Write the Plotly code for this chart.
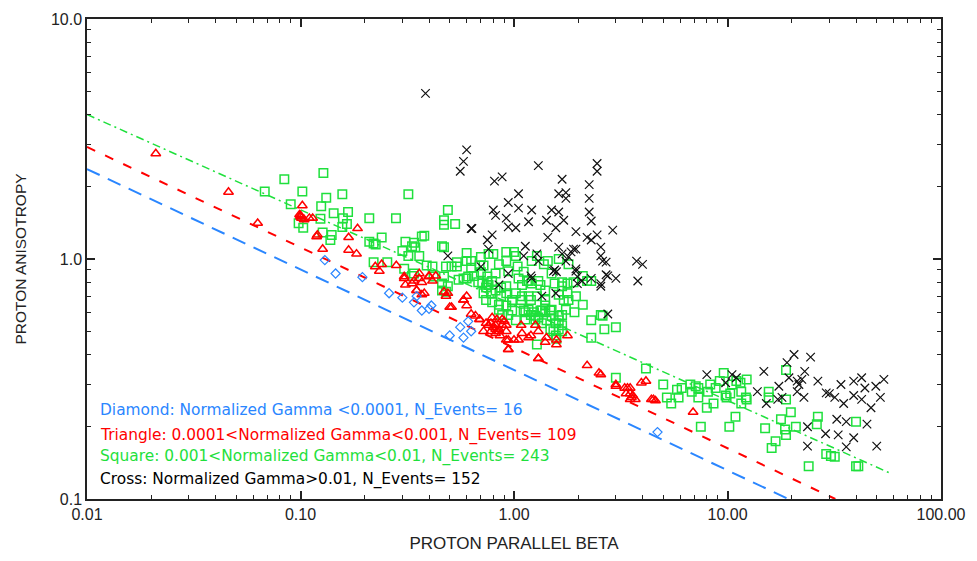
import plotly.graph_objects as go

# ---------------- data ----------------
diamond_x = [0.13, 0.146, 0.195, 0.26, 0.30, 0.34, 0.35, 0.37, 0.41, 0.50, 0.56, 0.61, 0.63, 0.58, 4.7, 0.40]
diamond_y = [0.99, 0.87, 0.84, 0.72, 0.69, 0.66, 0.70, 0.61, 0.64, 0.48, 0.52, 0.55, 0.50, 0.47, 0.19, 0.62]

triangle_x = [0.021, 0.046, 0.063, 0.102, 0.10, 0.10, 0.101, 0.11, 0.114, 0.119, 0.12, 0.127, 0.185, 0.168,
              0.168, 0.183, 0.224, 0.234, 0.24, 0.281, 0.306, 0.31, 0.34, 0.36, 0.35, 0.37, 0.38, 0.40,
              0.43, 0.47, 0.48, 0.51, 0.58, 0.60, 0.69, 0.78, 0.82, 0.85, 0.88, 0.92, 0.82, 0.92, 0.94,
              1.05, 1.17, 1.3, 1.4, 1.58, 1.3,
              0.306, 0.333, 0.35, 0.36, 0.37, 0.40, 0.415, 0.49, 0.50, 0.58, 0.60, 0.69, 0.63, 0.74,
              0.79, 0.83, 0.88, 0.82, 0.85, 0.92, 0.72, 0.78, 0.94, 1.0, 0.94, 1.08, 1.09, 1.2, 1.26,
              1.3, 1.42, 1.58, 1.78, 2.2, 2.5, 2.55, 3.0, 3.0, 3.4, 3.35, 3.55, 3.5, 3.7, 4.15, 4.4, 4.6,
              3.3, 3.5, 3.6, 3.5, 3.95, 4.5, 6.9, 0.099, 0.104, 0.80, 0.86, 0.76, 0.90, 0.66]
triangle_y = [2.75, 1.9, 1.41, 1.67, 1.5, 1.52, 1.48, 1.48, 1.48, 1.24, 1.26, 1.1, 1.34, 1.23,
              1.09, 1.05, 0.93, 0.89, 0.95, 0.94, 0.83, 0.78, 0.81, 0.87, 0.74, 0.71, 0.72, 0.85,
              0.85, 0.73, 0.70, 0.63, 0.675, 0.70, 0.56, 0.54, 0.53, 0.51, 0.56, 0.53, 0.49, 0.46, 0.42,
              0.46, 0.47, 0.50, 0.45, 0.44, 0.385,
              0.845, 0.79, 0.74, 0.83, 0.80, 0.845, 0.81, 0.72, 0.63, 0.675, 0.64, 0.56, 0.59, 0.54,
              0.57, 0.56, 0.53, 0.51, 0.50, 0.50, 0.50, 0.50, 0.46, 0.46, 0.42, 0.53, 0.49, 0.48, 0.53,
              0.385, 0.47, 0.46, 0.48, 0.36, 0.335, 0.33, 0.30, 0.295, 0.29, 0.275, 0.265, 0.26, 0.26, 0.31, 0.26, 0.257,
              0.29, 0.275, 0.27, 0.29, 0.305, 0.26, 0.23, 1.53, 1.46, 0.52, 0.48, 0.53, 0.55, 0.58]

square_x = [0.084, 0.128, 0.068, 0.102, 0.090, 0.132, 0.125, 0.157, 0.143, 0.158, 0.098, 0.103, 0.124,
            0.127, 0.14, 0.138, 0.157,
            0.167, 0.165, 0.21, 0.28, 0.32, 0.21, 0.22, 0.24, 0.225, 0.22, 0.255, 0.31, 0.34, 0.345,
            0.36, 0.32, 0.306, 0.34, 0.415, 0.42, 0.47, 0.48, 0.51, 0.47, 0.38, 0.49, 0.47, 0.47, 0.53,
            0.6, 0.70, 0.6, 0.63, 0.54, 0.63, 0.69, 0.70, 0.55, 0.61, 0.85, 0.92, 0.92, 1.02, 0.75, 0.79,
            0.71, 0.76, 0.82, 0.78, 0.72, 0.92, 0.94, 1.05, 1.09, 1.21, 1.28, 1.44, 1.62, 1.38, 1.5,
            1.17, 1.30, 1.02, 0.98, 1.08, 1.17, 1.28, 1.4, 0.87, 0.74, 0.79, 0.92, 0.98, 0.85, 1.11,
            1.17, 1.26, 1.35, 1.4, 1.5, 1.62, 1.57, 1.68, 1.02, 1.13, 1.28, 1.57, 1.58, 1.4, 1.55,
            1.68, 1.78, 1.8, 1.95, 2.1, 2.3, 2.6, 2.65, 3.0, 2.3, 2.1, 2.2, 1.8, 1.9, 1.68,
            0.333, 0.37, 0.3, 0.333, 0.39, 0.46, 0.46, 0.46, 0.48, 0.49, 0.54, 0.58, 0.6, 0.65, 0.68,
            0.76, 0.80, 0.75, 0.74, 0.82, 0.87, 0.92, 0.72, 0.85, 0.98, 0.88, 0.94, 1.0, 1.04, 1.11,
            1.15, 1.21, 1.33, 1.09, 1.2, 1.13, 1.2, 1.24, 1.26, 1.30, 1.33, 1.4, 1.48, 1.35, 1.42,
            1.5, 1.62, 1.48, 1.53, 1.62, 1.68, 1.68, 1.75, 1.62, 1.71, 1.78, 1.92, 2.3, 2.55, 4.15, 3.0,
            5.0, 5.2, 5.45, 5.9, 5.8, 6.1, 6.7, 7.1, 7.3, 6.8, 7.3, 7.5, 8.0, 8.6, 8.1, 8.3, 8.8,
            9.2, 9.6, 9.8, 9.9, 10.3, 10.2, 10.9, 10.5, 11.0, 11.5, 11.6, 12.2, 11.6, 12.3, 12.3,
            15.0, 15.6, 15.6, 16.1, 16.8, 17.8, 18.8, 18.8, 18.6, 18.8, 19.8, 20.9, 24, 26.5, 26.2,
            29, 30.5, 31.8, 40, 40, 41]
square_y = [2.15, 2.28, 1.91, 1.91, 1.69, 1.8, 1.66, 1.86, 1.55, 1.48, 1.41, 1.35, 1.47,
            1.29, 1.26, 1.2, 1.36,
            1.57, 1.4, 1.48, 1.48, 1.86, 1.18, 1.16, 1.23, 1.15, 0.97, 0.97, 1.18, 1.17, 1.12,
            1.03, 1.03, 0.91, 0.87, 0.93, 0.845, 0.845, 0.93, 0.93, 1.12, 1.25, 1.6, 1.45, 1.39, 1.4,
            1.06, 1.02, 0.98, 0.98, 0.97, 0.92, 0.94, 0.88, 0.82, 0.845, 0.95, 1.07, 0.98, 1.03, 0.845, 0.81,
            0.79, 0.78, 0.74, 0.72, 0.72, 0.72, 0.89, 0.83, 0.78, 0.98, 1.03, 0.98, 1.0, 0.95, 0.87,
            0.81, 0.81, 0.72, 0.675, 0.675, 0.70, 0.70, 0.675, 0.70, 0.675, 0.66, 0.64, 0.61, 0.615, 0.61,
            0.615, 0.58, 0.61, 0.64, 0.615, 0.58, 0.54, 0.53, 0.555, 0.56, 0.44, 0.48, 0.465, 0.74, 0.79,
            0.77, 0.72, 0.675, 0.70, 0.645, 0.555, 0.58, 0.51, 0.52, 0.47, 0.85, 0.81, 0.95, 0.80, 0.80,
            1.13, 1.24, 1.08, 0.85, 0.94, 1.13, 0.79, 0.74, 0.73, 0.77, 0.93, 0.83, 0.83, 0.85, 0.80,
            1.05, 1.05, 0.80, 0.76, 0.87, 0.76, 0.77, 0.94, 0.645, 0.66, 0.585, 0.585, 1.07, 0.93, 0.885,
            0.81, 0.79, 0.78, 0.70, 0.675, 0.60, 0.585, 0.60, 0.56, 0.57, 0.61, 0.60, 0.61, 0.54, 0.555,
            0.58, 0.555, 0.51, 0.50, 0.51, 0.50, 0.585, 0.615, 0.71, 0.675, 0.79, 0.60, 0.81, 0.585, 0.35, 0.32,
            0.30, 0.265, 0.25, 0.265, 0.285, 0.29, 0.30, 0.295, 0.29, 0.28, 0.265, 0.20, 0.24, 0.25, 0.28, 0.30, 0.29,
            0.31, 0.335, 0.27, 0.265, 0.275, 0.20, 0.22, 0.30, 0.31, 0.305, 0.28, 0.265, 0.25, 0.26, 0.315,
            0.197, 0.28, 0.265, 0.163, 0.174, 0.215, 0.345, 0.26, 0.195, 0.185, 0.23, 0.20, 0.137, 0.22, 0.205,
            0.154, 0.151, 0.15, 0.21, 0.137, 0.137]

cross_x = [0.385, 0.6, 0.58, 0.56, 1.3, 2.45, 2.45, 0.81, 0.88, 1.68, 2.25, 1.05, 0.94, 0.80, 0.82,
           1.05, 1.21, 1.62, 1.75, 1.75, 2.25, 2.25, 2.3, 1.5, 1.62, 0.92, 0.94, 1.02, 1.17, 1.42,
           1.71, 1.57, 0.63, 0.635, 0.79, 0.75, 0.76, 1.44, 1.95, 2.2, 2.3, 2.45, 2.55, 2.9, 1.95, 1.85,
           1.13, 1.11, 1.28, 1.30, 1.62, 1.68, 1.75, 1.9, 2.6, 2.7, 2.7, 3.0, 3.75, 4.0, 3.8, 0.49,
           0.70, 0.94, 1.2, 1.21, 1.53, 1.58, 1.95, 1.98, 1.98, 2.08, 2.3, 2.55, 2.75, 0.85, 1.35,
           1.57, 2.75, 1.8, 1.55, 1.95, 2.55, 2.55,
           8.0, 10.5, 11.0, 9.8, 13.8, 14.8, 15.2, 17.4, 18.0, 19.0, 20.5, 19.4, 21.2, 21.6, 22.3, 23,
           21.2, 22.8, 24.5, 17.2, 23.7, 23.7, 26.5, 28.8, 29, 30, 32.5, 33, 34, 31.8, 35, 36, 36, 39,
           39, 39, 42.5, 44, 42.5, 45, 49.5, 47, 50, 52, 54]
cross_y = [4.9, 2.85, 2.55, 2.32, 2.45, 2.5, 2.32, 2.11, 2.2, 2.15, 2.04, 1.87, 1.72, 1.6, 1.52,
           1.63, 1.6, 1.87, 1.89, 1.79, 1.79, 1.57, 1.44, 1.6, 1.57, 1.48, 1.36, 1.35, 1.43, 1.45,
           1.45, 1.35, 1.34, 1.34, 1.26, 1.2, 1.1, 1.23, 1.3, 1.23, 1.2, 1.26, 1.12, 1.32, 1.1, 1.07,
           1.13, 1.03, 1.05, 0.98, 1.12, 1.05, 0.98, 1.1, 0.98, 0.97, 0.86, 0.83, 0.98, 0.95, 0.81, 1.03,
           0.93, 0.87, 0.85, 0.83, 0.89, 0.885, 0.89, 0.845, 0.79, 0.81, 0.83, 0.79, 0.85, 0.78, 0.70,
           0.72, 0.59, 1.02, 0.90, 0.91, 0.77, 1.03,
           0.33, 0.33, 0.32, 0.305, 0.28, 0.34, 0.25, 0.295, 0.265, 0.37, 0.40, 0.32, 0.31, 0.30, 0.315, 0.34,
           0.28, 0.265, 0.39, 0.26, 0.20, 0.166, 0.31, 0.187, 0.277, 0.275, 0.215, 0.185, 0.30, 0.265, 0.25, 0.21, 0.165, 0.18,
           0.31, 0.27, 0.32, 0.29, 0.26, 0.205, 0.295, 0.24, 0.166, 0.265, 0.315]

# fitted threshold lines (end points in data units)
blue_fit_x = [0.01, 19.3]
blue_fit_y = [2.37, 0.1]
red_fit_x = [0.01, 32.0]
red_fit_y = [2.93, 0.1]
green_fit_x = [0.01, 58.4]
green_fit_y = [4.0, 0.1276]

x_tickvals = [0.01, 0.1, 1, 10, 100]
x_ticktext = ["0.01", "0.10", "1.00", "10.00", "100.00"]
y_tickvals = [0.1, 1, 10]
y_ticktext = ["0.1", "1.0", "10.0"]

legend_lines = [
    ("Diamond: Normalized Gamma <0.0001, N_Events= 16", "#2a86ff"),
    ("Triangle: 0.0001<Normalized Gamma<0.001, N_Events= 109", "#ff0000"),
    ("Square: 0.001<Normalized Gamma<0.01, N_Events= 243", "#1fe03c"),
    ("Cross: Normalized Gamma>0.01, N_Events= 152", "#000000"),
]

BLUE = "#2a86ff"
RED = "#ff0000"
GREEN = "#1fe03c"

fig = go.Figure()

fig.add_trace(go.Scatter(x=blue_fit_x, y=blue_fit_y, mode="lines",
                         line=dict(color=BLUE, width=2, dash="14px,9px")))
fig.add_trace(go.Scatter(x=red_fit_x, y=red_fit_y, mode="lines",
                         line=dict(color=RED, width=2, dash="9px,11px")))
fig.add_trace(go.Scatter(x=green_fit_x, y=green_fit_y, mode="lines",
                         line=dict(color=GREEN, width=1.5, dash="8px,4px,2px,4px")))

fig.add_trace(go.Scatter(x=square_x, y=square_y, mode="markers",
                         marker=dict(symbol="square-open", size=8.5, color=GREEN, line=dict(width=1.5, color=GREEN))))
fig.add_trace(go.Scatter(x=cross_x, y=cross_y, mode="markers",
                         marker=dict(symbol="x-thin-open", size=8.5, color="#111111", line=dict(width=1.2, color="#111111"))))
fig.add_trace(go.Scatter(x=triangle_x, y=triangle_y, mode="markers",
                         marker=dict(symbol="triangle-up-open", size=8.5, color=RED, line=dict(width=1.5, color=RED))))
fig.add_trace(go.Scatter(x=diamond_x, y=diamond_y, mode="markers",
                         marker=dict(symbol="diamond-open", size=7, color=BLUE, line=dict(width=1.2, color=BLUE))))

ann_y = [0.184, 0.133, 0.088, 0.041]
for (txt, col), yy in zip(legend_lines, ann_y):
    fig.add_annotation(x=0.013, y=yy, xref="paper", yref="paper", text=txt, showarrow=False,
                       xanchor="left", yanchor="middle",
                       font=dict(family="DejaVu Sans", size=15.4, color=col))

minor_x = [k * 10 ** d for d in range(-2, 2) for k in range(2, 10)]
minor_y = [k * 10 ** d for d in range(-1, 1) for k in range(2, 10)]

axis_common = dict(showline=True, linecolor="#222222", linewidth=1.5, mirror="ticks",
                   ticks="inside", ticklen=8, tickwidth=1.5, tickcolor="#222222",
                   showgrid=False, zeroline=False,
                   tickfont=dict(family="Liberation Sans, Arial", size=16, color="#222222"))

fig.update_xaxes(type="log", range=[-2, 2], tickmode="array", tickvals=x_tickvals, ticktext=x_ticktext,
                 minor=dict(tickmode="array", tickvals=minor_x, ticks="inside", ticklen=4,
                            tickwidth=1.2, tickcolor="#222222", showgrid=False),
                 title=dict(text="PROTON PARALLEL BETA", standoff=15,
                            font=dict(family="Liberation Sans, Arial", size=17, color="#222222")),
                 **axis_common)
fig.update_yaxes(type="log", range=[-1, 1], tickmode="array", tickvals=y_tickvals, ticktext=y_ticktext,
                 minor=dict(tickmode="array", tickvals=minor_y, ticks="inside", ticklen=4,
                            tickwidth=1.2, tickcolor="#222222", showgrid=False),
                 title=dict(text="PROTON ANISOTROPY", standoff=20,
                            font=dict(family="Liberation Sans, Arial", size=15.5, color="#222222")),
                 **axis_common)

fig.update_layout(width=977, height=561, showlegend=False,
                  margin=dict(l=87, r=34, t=11, b=60),
                  plot_bgcolor="white", paper_bgcolor="white")

fig.write_html("out.html")
